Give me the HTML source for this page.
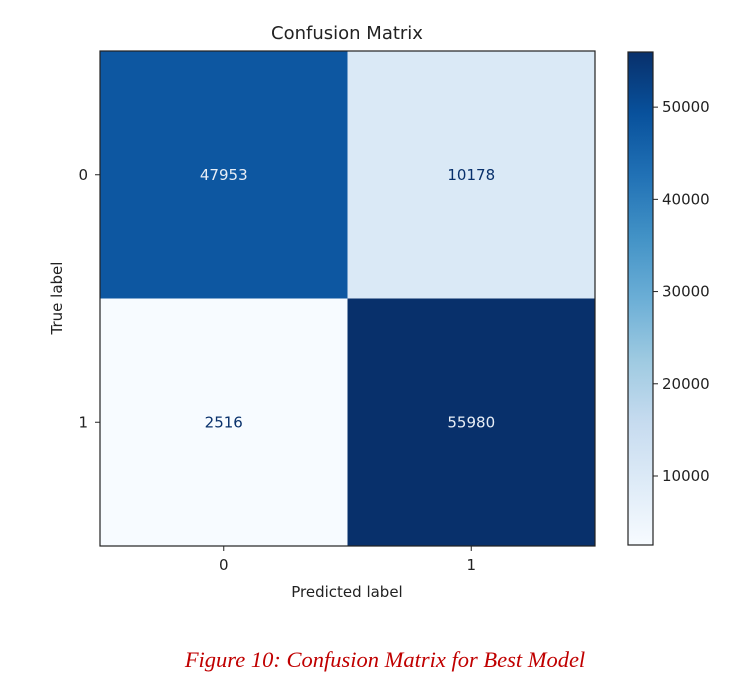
<!DOCTYPE html>
<html><head><meta charset="utf-8"><style>
body{margin:0;background:#fff;width:752px;height:696px;overflow:hidden}
svg{display:block}
text{font-family:"DejaVu Sans","Liberation Sans",sans-serif;fill:#222}
</style></head><body>
<svg id="chart" width="752" height="696" viewBox="0 0 752 696">
<defs>
<linearGradient id="cbgrad" x1="0" y1="1" x2="0" y2="0">
<stop offset="0" stop-color="#f7fbff"/><stop offset="0.125" stop-color="#deebf7"/><stop offset="0.25" stop-color="#c6dbef"/><stop offset="0.375" stop-color="#9ecae1"/><stop offset="0.5" stop-color="#6baed6"/><stop offset="0.625" stop-color="#4292c6"/><stop offset="0.75" stop-color="#2171b5"/><stop offset="0.875" stop-color="#08519c"/><stop offset="1" stop-color="#08306b"/>
</linearGradient>
</defs>
<text x="347" y="39" font-size="18" text-anchor="middle">Confusion Matrix</text>
<g id="cells"></g>
<rect x="100" y="51" width="495" height="495" fill="none" stroke="#222" stroke-width="1.2"/>
<g id="axes"></g>
<text x="347" y="597" font-size="15" text-anchor="middle">Predicted label</text>
<text x="0" y="0" font-size="15" text-anchor="middle" transform="translate(62,298) rotate(-90)">True label</text>
<rect x="628" y="52" width="25" height="493" fill="url(#cbgrad)" stroke="#222" stroke-width="1.2"/>
<g id="cbticks"></g>
<text x="385" y="667" font-size="22.5" text-anchor="middle" font-style="italic" style="font-family:'Liberation Serif',serif;fill:#c00000">Figure 10: Confusion Matrix for Best Model</text>
</svg>
<script>
const classes = ["0","1"];
const values = [[47953,10178],[2516,55980]];
const cbTicks = [10000,20000,30000,40000,50000];
const vmin = 2516, vmax = 55980;
const NS="http://www.w3.org/2000/svg";
const L=100,T=51,S=495,n=classes.length,cw=S/n;
const stops=["#f7fbff","#deebf7","#c6dbef","#9ecae1","#6baed6","#4292c6","#2171b5","#08519c","#08306b"];
function hex(h){return [1,3,5].map(i=>parseInt(h.substr(i,2),16));}
function cmap(t){t=Math.max(0,Math.min(1,t));const p=t*8,i=Math.min(7,Math.floor(p)),f=p-i;const a=hex(stops[i]),b=hex(stops[i+1]);return "rgb("+a.map((v,k)=>Math.round(v+(b[k]-v)*f)).join(",")+")";}
function norm(v){return (v-vmin)/(vmax-vmin);}
function cy(v){return 545-norm(v)*493;}
function mk(tag,attrs,parent){const e=document.createElementNS(NS,tag);for(const k in attrs)e.setAttribute(k,attrs[k]);parent.appendChild(e);return e;}
const cells=document.getElementById("cells"),axes=document.getElementById("axes"),cb=document.getElementById("cbticks");
for(let r=0;r<n;r++)for(let c=0;c<n;c++){
 const v=values[r][c];
 const rc=mk("rect",{x:L+c*cw,y:T+r*cw,width:cw+0.5,height:cw+0.5,fill:cmap(norm(v))},cells);
 
 
 const t=mk("text",{x:L+c*cw+cw/2,y:T+r*cw+cw/2+5,"font-size":15,"text-anchor":"middle"},cells);
 t.style.fill=norm(v)>0.5?"#e8eef6":"#08306b";
 t.textContent=v;
 
 
}
classes.forEach((lab,i)=>{
 const x=L+i*cw+cw/2,y=T+i*cw+cw/2;
 mk("line",{x1:x,x2:x,y1:546,y2:551,stroke:"#222"},axes);
 const tx=mk("text",{x:x,y:570,"font-size":15,"text-anchor":"middle"},axes);tx.textContent=lab;
 
 
 mk("line",{x1:95,x2:100,y1:y,y2:y,stroke:"#222"},axes);
 const ty=mk("text",{x:88,y:y+5,"font-size":15,"text-anchor":"end"},axes);ty.textContent=lab;
 
 
});
cbTicks.forEach(v=>{
 const y=cy(v);
 mk("line",{x1:653,x2:658,y1:y,y2:y,stroke:"#222"},cb);
 const t=mk("text",{x:662,y:y+5,"font-size":15},cb);t.textContent=v;
 
 
});
</script>
</body></html>
